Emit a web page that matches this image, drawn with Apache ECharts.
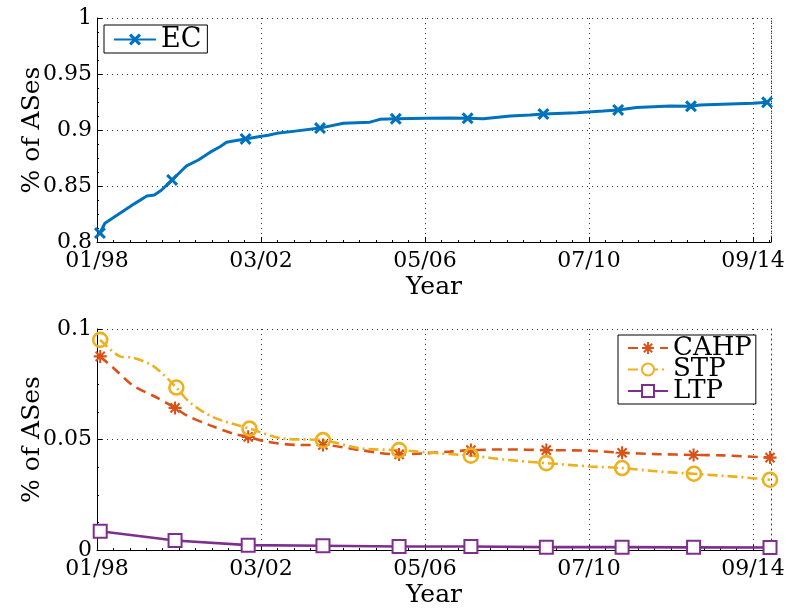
<!DOCTYPE html>
<html>
<head>
<meta charset="utf-8">
<script src="https://cdn.jsdelivr.net/npm/echarts@6/dist/echarts.min.js"></script>
<style>
html,body{margin:0;padding:0;background:#fff;}
#chart{width:788px;height:609px;}
</style>
</head>
<body>
<div id="chart"></div>
<script>
// ---- Data (x = months since 01/98) ----
var xTickMonths = [0, 50, 100, 150, 200];
var xTickLabels = ['01/98', '03/02', '05/06', '07/10', '09/14'];

var ecMonths = [0.9, 2.4, 7, 11.6, 15.2, 17.5, 19.7, 22.9, 26, 27.3, 30.9, 34.4, 37.5, 39.5, 42, 45.3, 49.2, 52.2, 54.8, 60.4, 68, 75.1, 83.2, 86.3, 91.1, 100.5, 107.6, 113, 117.8, 126, 132, 136.1, 146.3, 154.3, 158.9, 164.5, 174.7, 181.1, 183.8, 193, 200.1, 204.3];
var ecValues = [0.808, 0.8167, 0.8256, 0.8345, 0.841, 0.842, 0.8464, 0.8554, 0.8643, 0.868, 0.8732, 0.880, 0.885, 0.889, 0.8904, 0.892, 0.894, 0.8953, 0.897, 0.899, 0.9017, 0.906, 0.907, 0.9095, 0.910, 0.9104, 0.9107, 0.9104, 0.910, 0.9125, 0.9134, 0.9143, 0.9155, 0.917, 0.9179, 0.920, 0.9214, 0.9212, 0.9223, 0.9232, 0.9238, 0.9247];
var ecMarkerMonths = [0.9, 22.9, 45.3, 68, 91.1, 113, 136.1, 158.9, 181.1, 204.3];
var ecMarkerValues = [0.808, 0.8554, 0.892, 0.9017, 0.910, 0.9104, 0.9143, 0.9179, 0.9212, 0.9247];

var cahpMonths = [0.98, 5.5, 11.1, 18.2, 23.8, 27.3, 34.5, 41.5, 46.1, 51.7, 61.9, 68.9, 80.2, 92.1, 99.4, 107.6, 114, 125, 137, 150.3, 160.1, 170.7, 181.9, 190.8, 205.2];
var cahpValues = [0.0876, 0.0817, 0.0743, 0.069, 0.0643, 0.0609, 0.0564, 0.0527, 0.0512, 0.049, 0.0475, 0.0475, 0.0452, 0.0432, 0.0437, 0.0445, 0.0452, 0.0455, 0.0452, 0.0449, 0.0440, 0.0434, 0.0430, 0.0428, 0.0418];
var cahpMarkerMonths = [0.98, 23.8, 46.1, 68.9, 92.1, 114, 137, 160.1, 181.9, 205.2];
var cahpMarkerValues = [0.0876, 0.0643, 0.0512, 0.0475, 0.0432, 0.0452, 0.0452, 0.0440, 0.0430, 0.0418];

var stpMonths = [0.98, 7, 11, 17.2, 24.2, 28.3, 35.4, 46.5, 56.8, 68.9, 80.2, 92.1, 104.6, 114, 124.9, 137, 150.3, 160.1, 170.6, 182, 196, 205.2];
var stpValues = [0.0951, 0.0876, 0.087, 0.0832, 0.0735, 0.0668, 0.0601, 0.0549, 0.0504, 0.0497, 0.046, 0.0452, 0.0437, 0.0427, 0.0408, 0.0393, 0.0378, 0.0371, 0.0356, 0.0345, 0.033, 0.0318];
var stpMarkerMonths = [0.98, 24.2, 46.5, 68.9, 92.1, 114, 137, 160.1, 182, 205.2];
var stpMarkerValues = [0.0951, 0.0735, 0.0549, 0.0497, 0.0452, 0.0427, 0.0393, 0.0371, 0.0345, 0.0318];

var ltpMonths = [0.98, 23.8, 46.1, 68.9, 92.1, 114, 137, 160.1, 181.9, 205.2];
var ltpValues = [0.0085, 0.0043, 0.0022, 0.0019, 0.0016, 0.0016, 0.0013, 0.0013, 0.0012, 0.0011];

// ---- helpers ----
function pairs(xs, ys) { return xs.map(function (x, i) { return [x, ys[i]]; }); }

var FONT = 'DejaVu Serif';
var C_EC = '#0072BD', C_CAHP = '#D95319', C_STP = '#EDB120', C_LTP = '#7E2F8E';
var SYM_X = 'path://M0,1.8L1.8,0L5,3.2L8.2,0L10,1.8L6.8,5L10,8.2L8.2,10L5,6.8L1.8,10L0,8.2L3.2,5Z';
var SYM_STAR = 'path://M0,4.2L10,4.2L10,5.8L0,5.8ZM4.2,0L5.8,0L5.8,10L4.2,10ZM2.07,0.93L9.07,7.93L7.93,9.07L0.93,2.07ZM7.93,0.93L9.07,2.07L2.07,9.07L0.93,7.93Z';

function xAxisCfg(gi) {
  return {
    type: 'value', gridIndex: gi, min: 0, max: 205.5, interval: 50,
    name: 'Year', nameLocation: 'middle', nameGap: 33, nameMoveOverlap: false,
    nameTextStyle: { fontFamily: FONT, fontSize: 25, color: '#000' },
    axisLine: { onZero: false, lineStyle: { color: '#000', width: 1 } },
    axisTick: { inside: true, length: 5, lineStyle: { color: '#000' } },
    minorTick: { show: true, splitNumber: 10, length: 2, lineStyle: { color: '#000' } },
    axisLabel: {
      margin: 8, fontFamily: FONT, fontSize: 22, color: '#000',
      formatter: function (v) { var i = xTickMonths.indexOf(v); return i >= 0 ? xTickLabels[i] : ''; }
    },
    splitLine: { show: true, lineStyle: { color: '#333', type: [1, 4], width: 1 } }
  };
}
function yAxisCfg(gi, mn, mx, itv) {
  return {
    type: 'value', gridIndex: gi, min: mn, max: mx, interval: itv,
    name: '% of ASes', nameLocation: 'middle', nameGap: 52, nameRotate: 90, nameMoveOverlap: false,
    nameTextStyle: { fontFamily: FONT, fontSize: 25, color: '#000' },
    axisLine: { show: true, onZero: false, lineStyle: { color: '#000', width: 1 } },
    axisTick: { show: true, inside: true, length: 5, lineStyle: { color: '#000' } },
    minorTick: { show: true, splitNumber: 4, length: 2, lineStyle: { color: '#000' } },
    axisLabel: { margin: 5, fontFamily: FONT, fontSize: 22, color: '#000' },
    splitLine: { show: true, lineStyle: { color: '#333', type: [1, 4], width: 1 } }
  };
}
function rightEdge(gi, mn, mx) {
  return {
    type: 'value', gridIndex: gi, min: mn, max: mx, position: 'right',
    axisLine: { show: true, onZero: false, lineStyle: { color: '#333', type: [1, 4], width: 1 } },
    axisTick: { show: false }, axisLabel: { show: false }, splitLine: { show: false }
  };
}

var chart = echarts.init(document.getElementById('chart'), null, { renderer: 'canvas' });
chart.setOption({
  animation: false,
  backgroundColor: '#fff',
  textStyle: { fontFamily: FONT },
  grid: [
    { left: 97, right: 17, top: 18, height: 224 },
    { left: 97, right: 17, top: 329, height: 224 }
  ],
  xAxis: [xAxisCfg(0), xAxisCfg(1)],
  yAxis: [yAxisCfg(0, 0.8, 1, 0.05), yAxisCfg(1, 0, 0.1, 0.05), rightEdge(0, 0.8, 1), rightEdge(1, 0, 0.1)],
  legend: [
    {
      data: ['EC'], left: 104, top: 25, orient: 'vertical',
      backgroundColor: '#fff', borderColor: '#000', borderWidth: 1, borderRadius: 0,
      padding: [1, 6, 0, 9], itemWidth: 42, itemHeight: 15, itemGap: 0,
      textStyle: { fontFamily: FONT, fontSize: 27, color: '#000', lineHeight: 24 }
    },
    {
      data: ['CAHP', 'STP', 'LTP'], left: 618, top: 335, orient: 'vertical',
      backgroundColor: '#fff', borderColor: '#000', borderWidth: 1, borderRadius: 0,
      padding: [0, 4, 0, 9], itemWidth: 40, itemHeight: 15, itemGap: -4.5,
      textStyle: { fontFamily: FONT, fontSize: 26, color: '#000', lineHeight: 21 }
    }
  ],
  series: [
    {
      name: 'EC', type: 'line', xAxisIndex: 0, yAxisIndex: 0,
      data: pairs(ecMonths, ecValues), showSymbol: false, symbol: SYM_X, symbolSize: 12,
      itemStyle: { color: C_EC }, lineStyle: { color: C_EC, width: 3 }, clip: false, z: 3
    },
    {
      name: 'EC markers', type: 'scatter', xAxisIndex: 0, yAxisIndex: 0,
      data: pairs(ecMarkerMonths, ecMarkerValues), symbol: SYM_X, symbolSize: 12,
      itemStyle: { color: C_EC, opacity: 1 }, clip: false, z: 4
    },
    {
      name: 'CAHP', type: 'line', xAxisIndex: 1, yAxisIndex: 1, smooth: 0.3,
      data: pairs(cahpMonths, cahpValues), showSymbol: false, symbol: SYM_STAR, symbolSize: 13,
      itemStyle: { color: C_CAHP }, lineStyle: { color: C_CAHP, width: 2.6, type: [10, 6] }, clip: false, z: 3
    },
    {
      name: 'CAHP markers', type: 'scatter', xAxisIndex: 1, yAxisIndex: 1,
      data: pairs(cahpMarkerMonths, cahpMarkerValues), symbol: SYM_STAR, symbolSize: 13,
      itemStyle: { color: C_CAHP, opacity: 1 }, clip: false, z: 4
    },
    {
      name: 'STP', type: 'line', xAxisIndex: 1, yAxisIndex: 1, smooth: 0.3,
      data: pairs(stpMonths, stpValues), showSymbol: false, symbol: 'emptyCircle', symbolSize: 15,
      itemStyle: { color: C_STP }, lineStyle: { color: C_STP, width: 2.6, type: [10, 4, 2, 4] }, clip: false, z: 3
    },
    {
      name: 'STP markers', type: 'scatter', xAxisIndex: 1, yAxisIndex: 1,
      data: pairs(stpMarkerMonths, stpMarkerValues), symbol: 'circle', symbolSize: 14,
      itemStyle: { color: 'rgba(255,255,255,0)', borderColor: C_STP, borderWidth: 2.6, opacity: 1 }, clip: false, z: 4
    },
    {
      name: 'LTP', type: 'line', xAxisIndex: 1, yAxisIndex: 1,
      data: pairs(ltpMonths, ltpValues), showSymbol: true, symbol: 'emptyRect', symbolSize: 13,
      itemStyle: { color: C_LTP, borderWidth: 2.6 }, lineStyle: { color: C_LTP, width: 2.6 }, clip: false, z: 3
    }
  ]
});
</script>
</body>
</html>
